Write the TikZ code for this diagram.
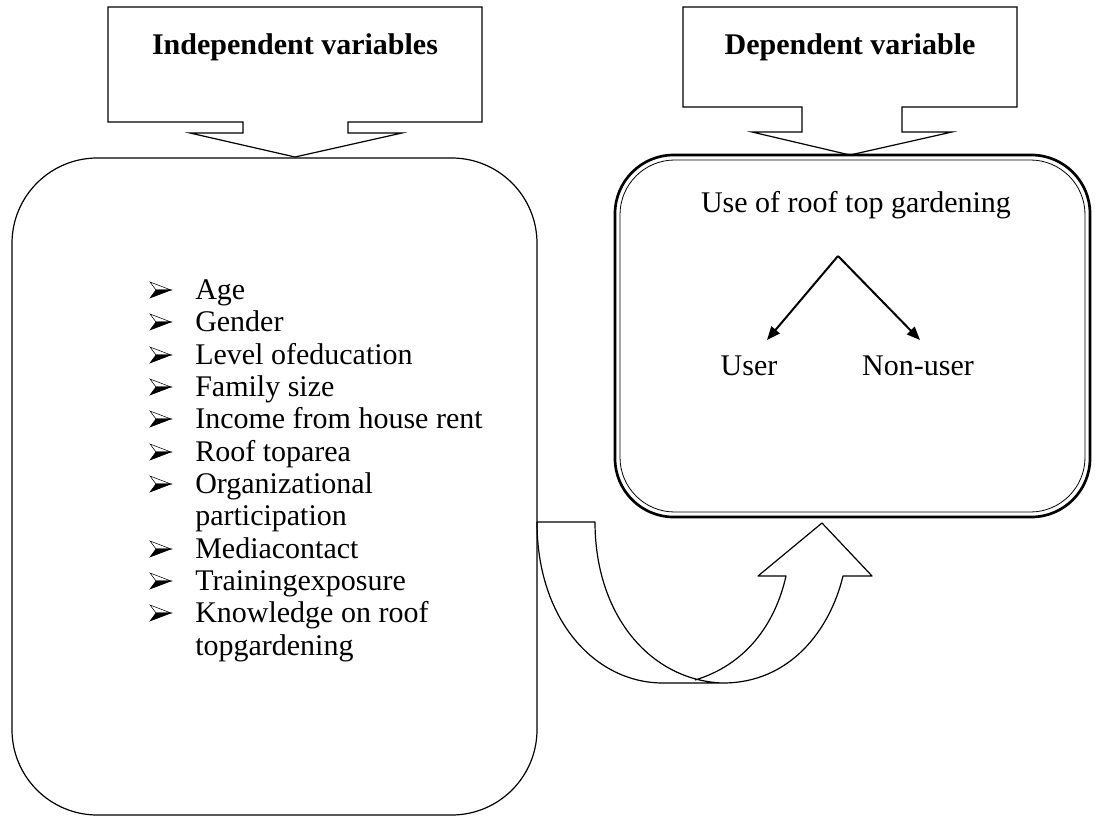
\documentclass[tikz,border=0pt]{standalone}
\usepackage{fontspec}
\setmainfont{Liberation Serif}
\usetikzlibrary{arrows.meta}
\begin{document}
\begin{tikzpicture}[x=0.75pt,y=-0.75pt,line join=miter,
  shp/.style={draw=black,line width=0.9pt},
  head/.style={font=\fontsize{22.5}{26}\selectfont\bfseries,inner sep=0pt},
  txt/.style={font=\fontsize{22.5}{26}\selectfont,inner sep=0pt},
  item/.style={txt,anchor=base west},
  arr/.style={line width=1.5pt,-{Triangle[length=10pt,width=8pt]}},
  pics/bul/.style={code={
    \draw[line width=0.4pt,fill=white] (0,-8) -- (21,0) -- (6,0) -- cycle;
    \filldraw[line width=0.4pt] (6,0) -- (21,0) -- (0,8) -- cycle;
  }}]
\useasboundingbox (0,0) rectangle (1103,817);

% callouts
\draw[shp] (108,7) -- (482,7) -- (482,122) -- (348,122) -- (348,133) -- (402,133)
  -- (295,157) -- (190,133) -- (243,133) -- (243,122) -- (108,122) -- cycle;
\node[head] (iv) at (295,47) {Independent variables};
\draw[shp] (683,7) -- (1017,7) -- (1017,107) -- (902,107) -- (902,132) -- (952,132)
  -- (850,155) -- (752,132) -- (802,132) -- (802,107) -- (683,107) -- cycle;
\node[head] (dv) at (850,47) {Dependent variable};

% left box
\draw[shp,rounded corners=64pt] (12,158) rectangle (537,815);
% right box (double line)
\draw[draw=black,line width=2pt,rounded corners=44pt] (615,155) rectangle (1090,517);
\draw[draw=black,line width=0.6pt,rounded corners=41pt] (620,160) rectangle (1085,512);

% list
\foreach \yy in {290,322,355,387,419,452,484,549,581,613}
  \pic at (150,\yy) {bul};
\node[item] (i1) at (195,299) {Age};
\node[item] (i2) at (195,331) {Gender};
\node[item] (i3) at (195,364) {Level ofeducation};
\node[item] (i4) at (195,396) {Family size};
\node[item] (i5) at (195,428) {Income from house rent};
\node[item] (i6) at (195,461) {Roof toparea};
\node[item] (i7) at (195,493) {Organizational};
\node[item] (i7b) at (195,525) {participation};
\node[item] (i8) at (195,558) {Mediacontact};
\node[item] (i9) at (195,590) {Trainingexposure};
\node[item] (i10) at (195,622) {Knowledge on roof};
\node[item] (i10b) at (195,655) {topgardening};

% right content
\node[txt] (use) at (856,205) {Use of roof top gardening};
\node[txt] (user) at (749,366) {User};
\node[txt] (non) at (918,366) {Non-user};
\coordinate (apex) at (838,256);
\coordinate (tl) at (767,340);
\coordinate (tr) at (920,340);
\draw[arr] (apex) -- (tl);
\draw[arr] (apex) -- (tr);

% curved up arrow
\draw[shp,line join=round] (537,522) -- (595,522)
  .. controls (595,615) and (650,680) .. (722,683)
  (537,522) .. controls (537,620) and (595,683) .. (663,683) -- (723,683)
  .. controls (790,683) and (830,630) .. (843,576)
  -- (872,576) -- (822,523) -- (758,576) -- (786,576)
  .. controls (775,625) and (745,665) .. (695,680);
\end{tikzpicture}
\end{document}
